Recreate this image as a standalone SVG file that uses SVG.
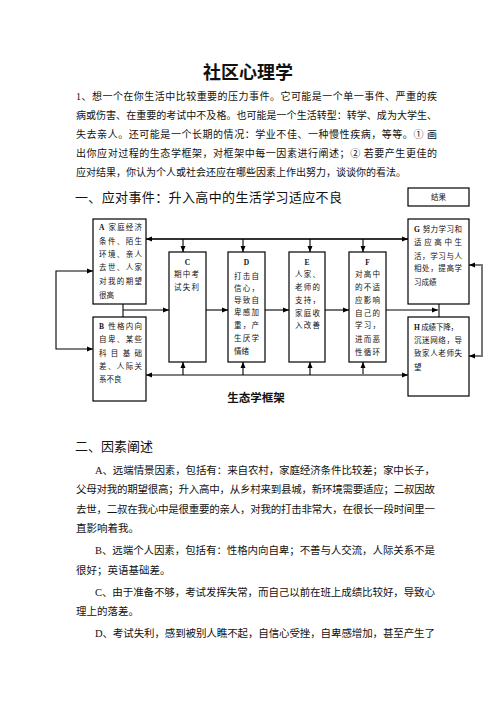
<svg xmlns="http://www.w3.org/2000/svg" width="496" height="702" viewBox="0 0 496 702">
<defs>
<style>
.t{font-family:"Liberation Serif","Noto Sans CJK SC",serif;fill:#111}
.p{font-size:10px}
.s{font-size:10.5px}
.h{font-size:13px}
.b{font-size:7.5px}
.box{fill:#fff;stroke:#000;stroke-width:1.2}
.ln{fill:none;stroke:#000;stroke-width:1.1}
.gr{fill:none;stroke:#777;stroke-width:2}
.tk{fill:none;stroke:#333;stroke-width:2}
</style>
<marker id="ar" viewBox="0 0 6 6" markerWidth="6" markerHeight="6" markerUnits="userSpaceOnUse" refX="6" refY="3" orient="auto-start-reverse"><path d="M0,0.5 L6,3 L0,5.5 z" fill="#000"/></marker>
</defs>
<rect width="496" height="702" fill="#fff"/>

<text class="t" x="248" y="79" font-size="18" font-weight="bold" text-anchor="middle">社区心理学</text>
<g id="question">
<text class="t p" x="76" y="100" textLength="361" lengthAdjust="spacing">1、想一个在你生活中比较重要的压力事件。它可能是一个单一事件、严重的疾</text>
<text class="t p" x="76" y="119" textLength="361" lengthAdjust="spacing">病或伤害、在重要的考试中不及格。也可能是一个生活转型：转学、成为大学生、</text>
<text class="t p" x="76" y="138" textLength="361" lengthAdjust="spacing">失去亲人。还可能是一个长期的情况：学业不佳、一种慢性疾病，等等。① 画</text>
<text class="t p" x="76" y="157" textLength="361" lengthAdjust="spacing">出你应对过程的生态学框架，对框架中每一因素进行阐述；② 若要产生更佳的</text>
<text class="t p" x="76" y="176">应对结果，你认为个人或社会还应在哪些因素上作出努力，谈谈你的看法。</text>
</g>
<text class="t h" x="75" y="202" textLength="267" lengthAdjust="spacing">一、应对事件：升入高中的生活学习适应不良</text>

<g id="connectors">
<line class="tk" x1="146" y1="239" x2="408" y2="239" marker-start="url(#ar)" marker-end="url(#ar)"/>
<line class="ln" x1="183" y1="239" x2="183" y2="252" marker-end="url(#ar)"/>
<line class="ln" x1="243" y1="239" x2="243" y2="252" marker-end="url(#ar)"/>
<line class="ln" x1="310" y1="239" x2="310" y2="252" marker-end="url(#ar)"/>
<line class="ln" x1="363" y1="239" x2="363" y2="252" marker-end="url(#ar)"/>
<line class="gr" x1="123" y1="304" x2="123" y2="317"/>
<line class="gr" x1="439" y1="304" x2="439" y2="317"/>
<line class="ln" x1="123" y1="310" x2="169" y2="310" marker-end="url(#ar)"/>
<line class="ln" x1="206" y1="310" x2="228" y2="310" marker-end="url(#ar)"/>
<line class="ln" x1="265" y1="310" x2="289" y2="310" marker-end="url(#ar)"/>
<line class="ln" x1="325" y1="310" x2="349" y2="310" marker-end="url(#ar)"/>
<line class="ln" x1="386" y1="310" x2="438" y2="310" marker-end="url(#ar)"/>
<line class="ln" x1="146" y1="375" x2="408" y2="375" marker-start="url(#ar)" marker-end="url(#ar)"/>
<line class="ln" x1="183" y1="375" x2="183" y2="362" marker-end="url(#ar)"/>
<line class="ln" x1="243" y1="375" x2="243" y2="362" marker-end="url(#ar)"/>
<line class="ln" x1="310" y1="375" x2="310" y2="362" marker-end="url(#ar)"/>
<line class="gr" x1="363" y1="375" x2="363" y2="362" marker-end="url(#ar)"/>
<polyline class="ln" points="93,271 56,271 56,349 93,349" marker-start="url(#ar)" marker-end="url(#ar)"/>
<polyline class="gr" points="469,265 482,265 482,356 469,356" marker-start="url(#ar)" marker-end="url(#ar)"/>
</g>

<g id="result">
<rect class="box" x="408" y="188" width="61" height="18"/>
<text class="t b" x="438.5" y="199.5" text-anchor="middle">结果</text>
</g>
<g id="A">
<rect class="box" x="93" y="219" width="53" height="85"/>
<text class="t b" x="99" y="230" textLength="43" lengthAdjust="spacing"><tspan font-weight="bold">A</tspan> 家庭经济</text>
<text class="t b" x="99" y="244" textLength="43" lengthAdjust="spacing">条件、陌生</text>
<text class="t b" x="99" y="257" textLength="43" lengthAdjust="spacing">环境、亲人</text>
<text class="t b" x="99" y="270" textLength="43" lengthAdjust="spacing">去世、人家</text>
<text class="t b" x="99" y="284" textLength="43" lengthAdjust="spacing">对我的期望</text>
<text class="t b" x="99" y="298">很高</text>
</g>
<g id="B">
<rect class="box" x="93" y="317" width="53" height="84"/>
<text class="t b" x="99" y="329" textLength="43" lengthAdjust="spacing"><tspan font-weight="bold">B</tspan> 性格内向</text>
<text class="t b" x="99" y="342" textLength="43" lengthAdjust="spacing">自卑、某些</text>
<text class="t b" x="99" y="356" textLength="43" lengthAdjust="spacing">科目基础</text>
<text class="t b" x="99" y="369" textLength="43" lengthAdjust="spacing">差、人际关</text>
<text class="t b" x="99" y="382">系不良</text>
</g>
<g id="C">
<rect class="box" x="169" y="252" width="37" height="110"/>
<text class="t b" x="187.5" y="265" text-anchor="middle" font-weight="bold">C</text>
<text class="t b" x="174" y="277" textLength="25" lengthAdjust="spacing">期中考</text>
<text class="t b" x="174" y="290" textLength="25" lengthAdjust="spacing">试失利</text>
</g>
<g id="D">
<rect class="box" x="228" y="252" width="37" height="110"/>
<text class="t b" x="246.5" y="265" text-anchor="middle" font-weight="bold">D</text>
<text class="t b" x="234" y="279" textLength="25" lengthAdjust="spacing">打击自</text>
<text class="t b" x="234" y="291" textLength="25" lengthAdjust="spacing">信心，</text>
<text class="t b" x="234" y="303" textLength="25" lengthAdjust="spacing">导致自</text>
<text class="t b" x="234" y="315" textLength="25" lengthAdjust="spacing">卑感加</text>
<text class="t b" x="234" y="328" textLength="25" lengthAdjust="spacing">重，产</text>
<text class="t b" x="234" y="341" textLength="25" lengthAdjust="spacing">生厌学</text>
<text class="t b" x="234" y="354">情绪</text>
</g>
<g id="E">
<rect class="box" x="289" y="252" width="36" height="110"/>
<text class="t b" x="307" y="265" text-anchor="middle" font-weight="bold">E</text>
<text class="t b" x="295" y="277" textLength="25" lengthAdjust="spacing">人家、</text>
<text class="t b" x="295" y="290" textLength="25" lengthAdjust="spacing">老师的</text>
<text class="t b" x="295" y="303" textLength="25" lengthAdjust="spacing">支持，</text>
<text class="t b" x="295" y="316" textLength="25" lengthAdjust="spacing">家庭收</text>
<text class="t b" x="295" y="328" textLength="25" lengthAdjust="spacing">入改善</text>
</g>
<g id="F">
<rect class="box" x="349" y="252" width="37" height="110"/>
<text class="t b" x="367.5" y="265" text-anchor="middle" font-weight="bold">F</text>
<text class="t b" x="355" y="277" textLength="25" lengthAdjust="spacing">对高中</text>
<text class="t b" x="355" y="290" textLength="25" lengthAdjust="spacing">的不适</text>
<text class="t b" x="355" y="303" textLength="25" lengthAdjust="spacing">应影响</text>
<text class="t b" x="355" y="316" textLength="25" lengthAdjust="spacing">自己的</text>
<text class="t b" x="355" y="328" textLength="25" lengthAdjust="spacing">学习，</text>
<text class="t b" x="355" y="342" textLength="25" lengthAdjust="spacing">进而恶</text>
<text class="t b" x="355" y="355" textLength="25" lengthAdjust="spacing">性循环</text>
</g>
<g id="G">
<rect class="box" x="408" y="219" width="61" height="85"/>
<text class="t b" x="414" y="232" textLength="48" lengthAdjust="spacing"><tspan font-weight="bold">G</tspan> 努力学习和</text>
<text class="t b" x="414" y="245" textLength="48" lengthAdjust="spacing">适应高中生</text>
<text class="t b" x="414" y="259" textLength="48" lengthAdjust="spacing">活，学习与人</text>
<text class="t b" x="414" y="271" textLength="48" lengthAdjust="spacing">相处，提高学</text>
<text class="t b" x="414" y="285">习成绩</text>
</g>
<g id="H">
<rect class="box" x="408" y="317" width="61" height="79"/>
<text class="t b" x="414" y="330" textLength="44" lengthAdjust="spacing"><tspan font-weight="bold">H</tspan> 成绩下降，</text>
<text class="t b" x="414" y="343" textLength="48" lengthAdjust="spacing">沉迷网络，导</text>
<text class="t b" x="414" y="356" textLength="48" lengthAdjust="spacing">致家人老师失</text>
<text class="t b" x="414" y="370">望</text>
</g>
<text class="t" x="256" y="402" font-size="11.5" font-weight="bold" text-anchor="middle">生态学框架</text>

<g id="factors">
<text class="t h" x="75" y="451">二、因素阐述</text>
<text class="t s" x="95" y="474" textLength="340" lengthAdjust="spacing">A、远端情景因素，包括有：来自农村，家庭经济条件比较差；家中长子，</text>
<text class="t s" x="76" y="493" textLength="359" lengthAdjust="spacing">父母对我的期望很高；升入高中，从乡村来到县城，新环境需要适应；二叔因故</text>
<text class="t s" x="76" y="513" textLength="359" lengthAdjust="spacing">去世，二叔在我心中是很重要的亲人，对我的打击非常大，在很长一段时间里一</text>
<text class="t s" x="76" y="532">直影响着我。</text>
<text class="t s" x="95" y="554" textLength="340" lengthAdjust="spacing">B、远端个人因素，包括有：性格内向自卑；不善与人交流，人际关系不是</text>
<text class="t s" x="76" y="574">很好；英语基础差。</text>
<text class="t s" x="95" y="596" textLength="340" lengthAdjust="spacing">C、由于准备不够，考试发挥失常，而自己以前在班上成绩比较好，导致心</text>
<text class="t s" x="76" y="615">理上的落差。</text>
<text class="t s" x="95" y="637" textLength="340" lengthAdjust="spacing">D、考试失利，感到被别人瞧不起，自信心受挫，自卑感增加，甚至产生了</text>
</g>
</svg>
